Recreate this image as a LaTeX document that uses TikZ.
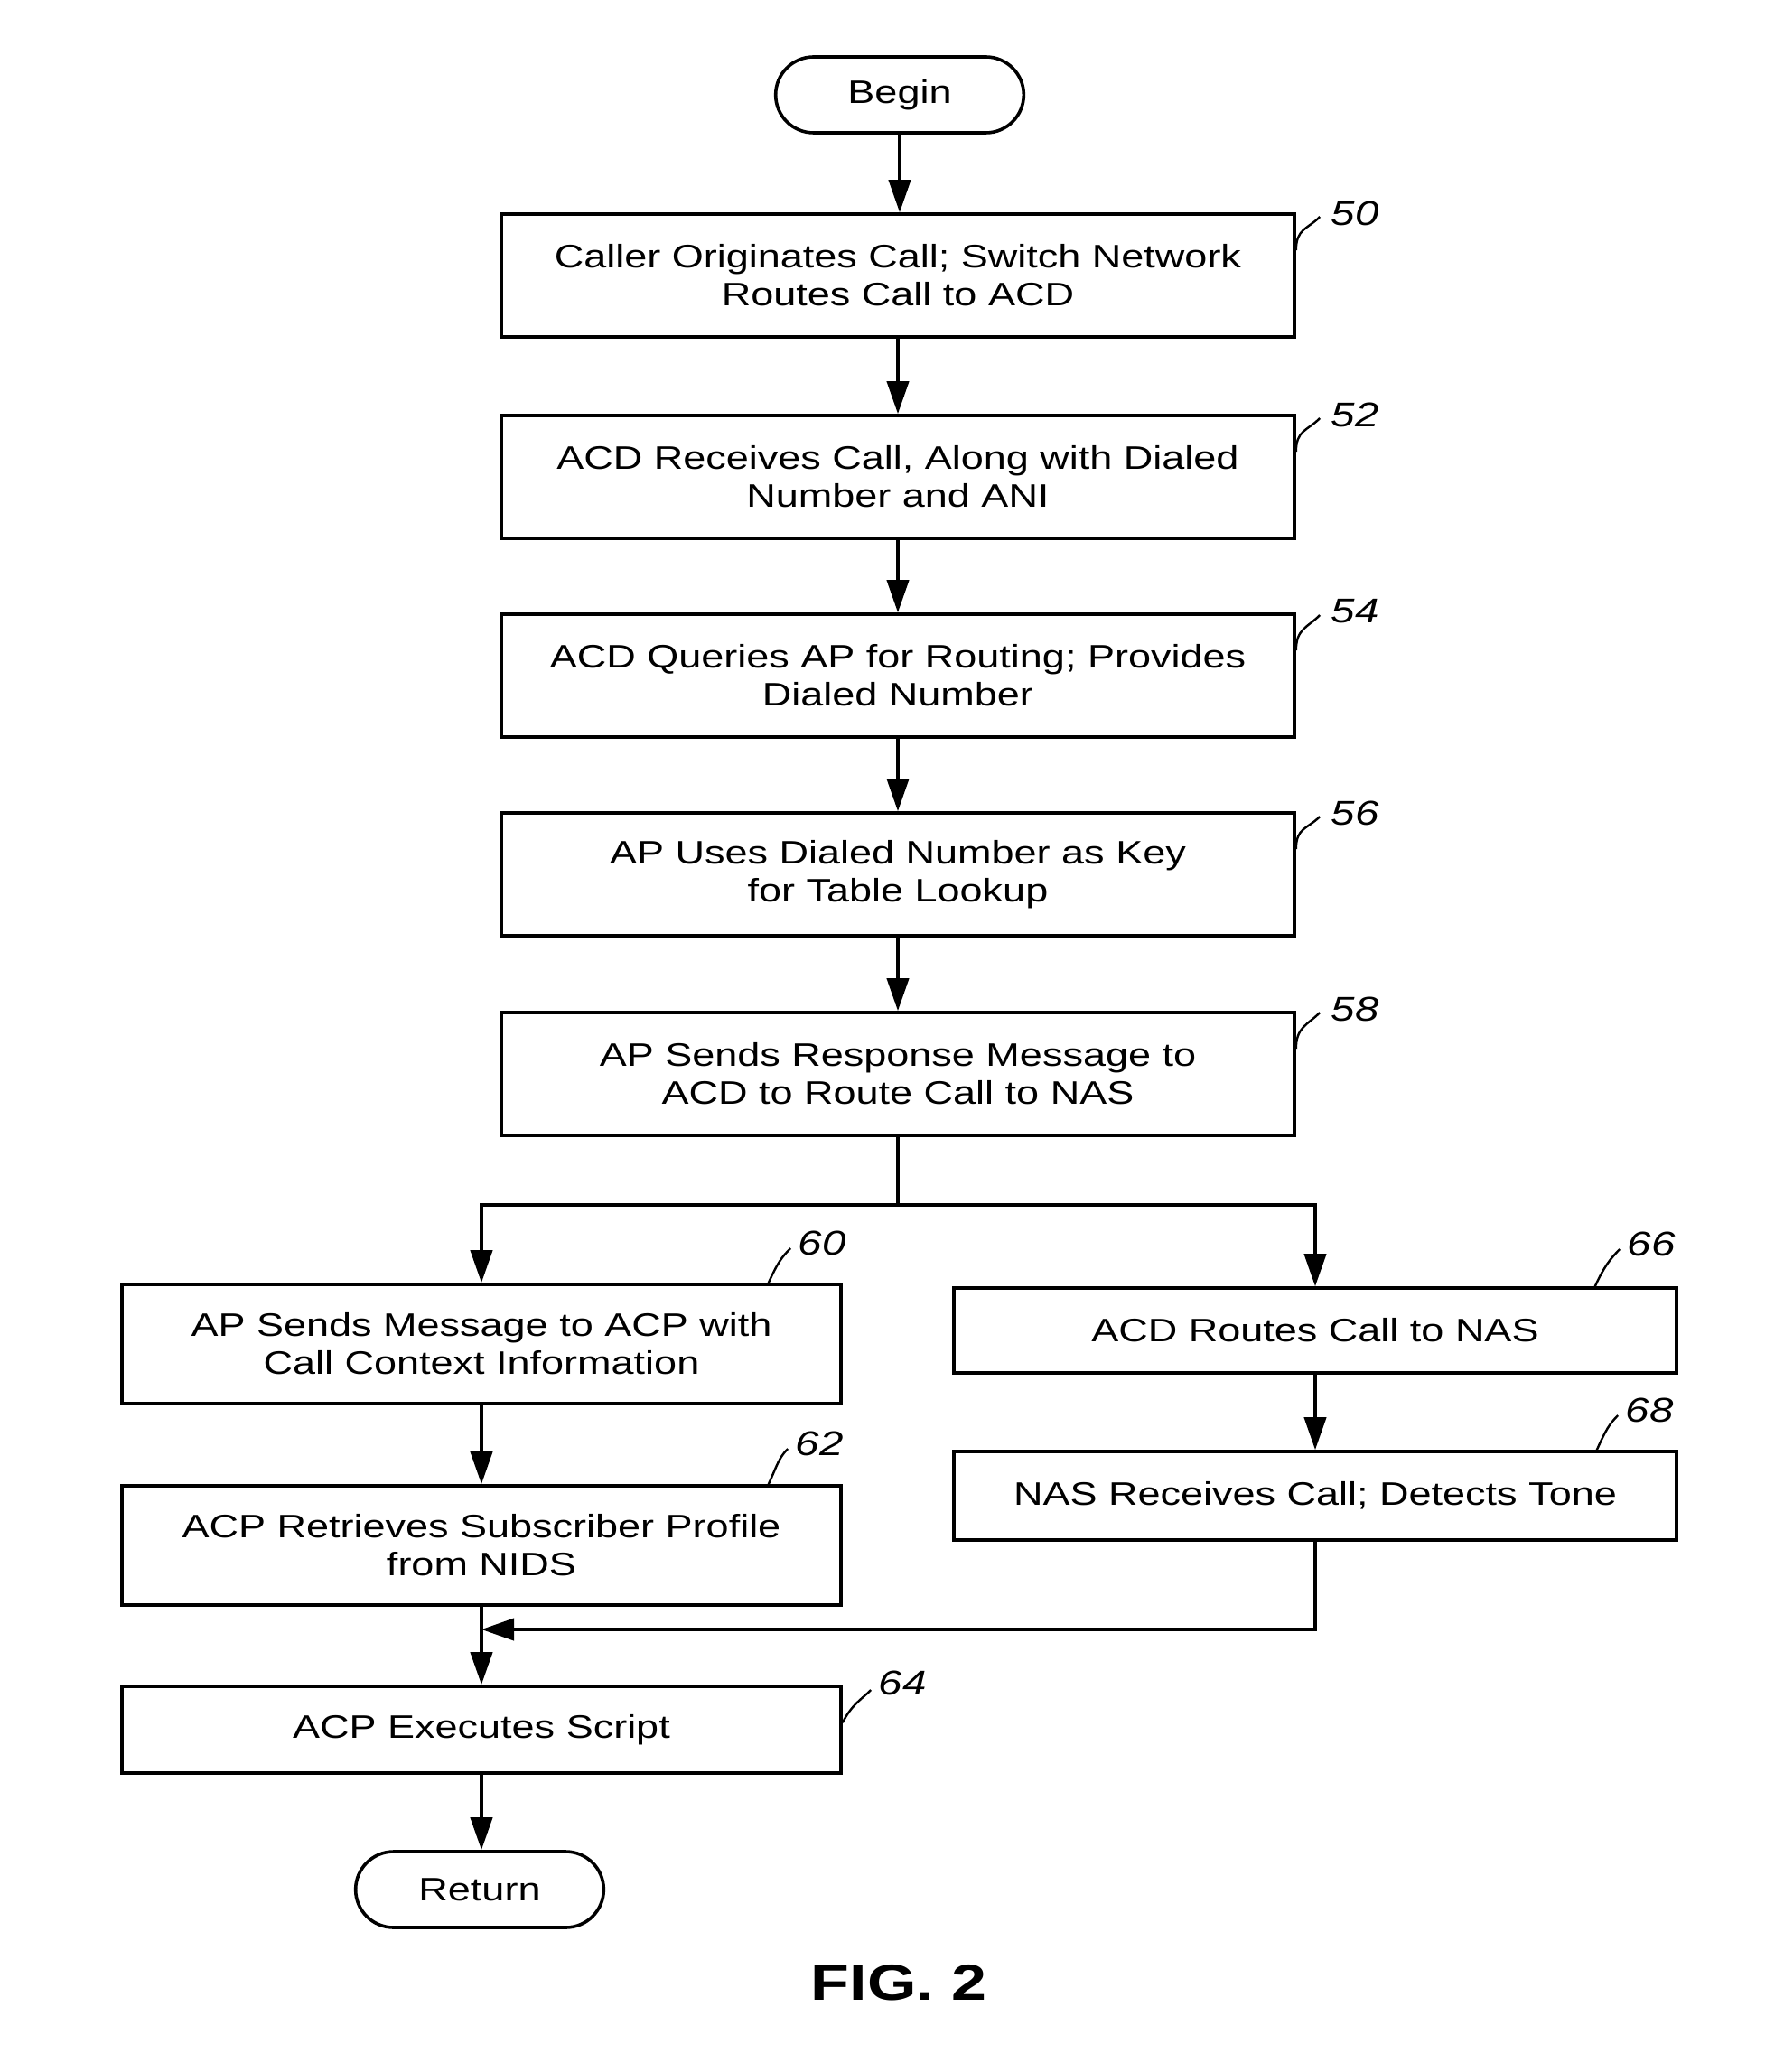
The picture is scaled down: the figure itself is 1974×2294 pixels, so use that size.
\documentclass[tikz,border=0pt]{standalone}
\usepackage{fontspec}
\setmainfont{Liberation Sans}[FakeStretch=1.25]
\usetikzlibrary{arrows.meta,shapes,calc}

\begin{document}
\begin{tikzpicture}[x = 0.5pt, y = -0.5pt,
  box/.style = {draw, line width=1.8pt, minimum width=439pt, minimum height=68pt, align=center, inner sep=2pt, font=\fontsize{18}{21}\selectfont},
  term/.style = {draw, line width=1.8pt, rounded rectangle, minimum width=144pt, minimum height=42pt, font=\fontsize{18}{21}\selectfont},
  ref/.style = {inner sep=0pt, font=\fontsize{19}{21}\selectfont\itshape},
  flow/.style = {line width=2pt, -{Triangle[length=18pt,width=12pt]}},
  lead/.style = {line width=1.2pt}]
\useasboundingbox (0,0) rectangle (1974,2294);
\node[term] (begin) at (996,105) {Begin};
\node[box] (b50) at (994,305) {Caller Originates Call; Switch Network\\Routes Call to ACD};
\node[box] (b52) at (994,528) {ACD Receives Call, Along with Dialed\\Number and ANI};
\node[box] (b54) at (994,748) {ACD Queries AP for Routing; Provides\\Dialed Number};
\node[box] (b56) at (994,968) {AP Uses Dialed Number as Key\\for Table Lookup};
\node[box] (b58) at (994,1189) {AP Sends Response Message to\\ACD to Route Call to NAS};
\node[box, minimum width=398pt, minimum height=66pt] (b60) at (533,1488) {AP Sends Message to ACP with\\Call Context Information};
\node[box, minimum width=398pt, minimum height=66pt] (b62) at (533,1711) {ACP Retrieves Subscriber Profile\\from NIDS};
\node[box, minimum width=398pt, minimum height=48pt] (b64) at (533,1915) {ACP Executes Script};
\node[box, minimum width=400pt, minimum height=47pt] (b66) at (1456,1473) {ACD Routes Call to NAS};
\node[box, minimum width=400pt, minimum height=49pt] (b68) at (1456,1656) {NAS Receives Call; Detects Tone};
\node[term] (ret) at (531,2092) {Return};
\node[font=\fontsize{28}{30}\selectfont\bfseries] (fig) at (995,2195) {FIG. 2};

% main column
\draw[flow] (begin.south) -- (begin.south |- b50.north);
\draw[flow] (b50) -- (b52);
\draw[flow] (b52) -- (b54);
\draw[flow] (b54) -- (b56);
\draw[flow] (b56) -- (b58);
% split and merge
\coordinate (split) at (994,1334);
\coordinate (merge) at (533,1804);
\draw[line width=2pt] (b58) -- (split);
\draw[flow] (split) -| (b60.north);
\draw[flow] (split) -| (b66.north);
\draw[flow] (b60) -- (b62);
\draw[flow] (b62) -- (b64);
\draw[flow] (b66) -- (b68);
\draw[flow] (b68.south) |- (merge);
\draw[flow] (b64.south) -- (b64.south |- ret.north);

% reference numerals
\node[ref] (l50) at (1500,236) {50};
\node[ref] (l52) at (1500,459) {52};
\node[ref] (l54) at (1500,677) {54};
\node[ref] (l56) at (1500,900) {56};
\node[ref] (l58) at (1500,1117) {58};
\node[ref] (l60) at (910,1376) {60};
\node[ref] (l62) at (907,1598) {62};
\node[ref] (l64) at (999,1863) {64};
\node[ref] (l66) at (1828,1377) {66};
\node[ref] (l68) at (1826,1561) {68};
\foreach \n in {50,52,54,56,58}
  \draw[lead] ([yshift=-21pt]b\n.north east) .. controls +(0,-24) and +(-14,14) .. ([xshift=-6pt,yshift=-2pt]l\n.west);
\draw[lead] ([xshift=-41pt]b60.north east) .. controls +(10,-22) and +(-10,10) .. ([xshift=-4pt,yshift=-3pt]l60.west);
\draw[lead] ([xshift=-41pt]b62.north east) .. controls +(10,-22) and +(-10,10) .. ([xshift=-4pt,yshift=-3pt]l62.west);
\draw[lead] ([yshift=-21pt]b64.north east) .. controls +(10,-20) and +(-10,10) .. ([xshift=-4pt,yshift=-4pt]l64.west);
\draw[lead] ([xshift=-46pt]b66.north east) .. controls +(10,-22) and +(-10,10) .. ([xshift=-4pt,yshift=-3pt]l66.west);
\draw[lead] ([xshift=-45pt]b68.north east) .. controls +(10,-22) and +(-10,10) .. ([xshift=-4pt,yshift=-3pt]l68.west);
\end{tikzpicture}
\end{document}
